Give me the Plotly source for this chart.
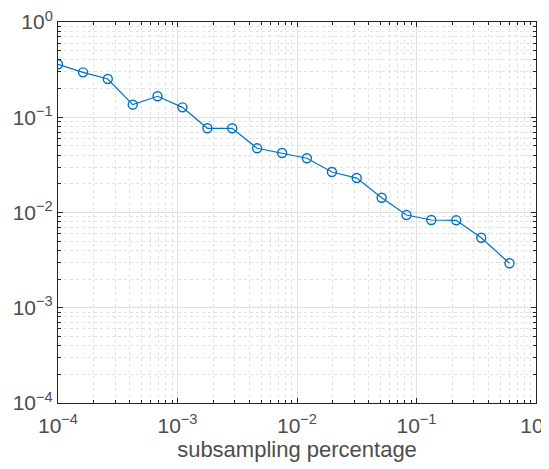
import plotly.graph_objects as go

# Data
x_vals = [1.0e-4, 1.62e-4, 2.61e-4, 4.22e-4, 6.81e-4, 1.10e-3, 1.78e-3, 2.87e-3,
          4.64e-3, 7.50e-3, 1.21e-2, 1.96e-2, 3.16e-2, 5.11e-2, 8.25e-2, 0.133,
          0.215, 0.348, 0.60]
y_vals = [0.36, 0.296, 0.252, 0.1355, 0.166, 0.127, 0.0766, 0.0766, 0.0472,
          0.0421, 0.0371, 0.0266, 0.023, 0.0143, 0.0094, 0.00834, 0.00828,
          0.00543, 0.00293]

x_tickvals = [1e-4, 1e-3, 1e-2, 1e-1, 1e0]
x_ticktext = ["10<sup>−4</sup>", "10<sup>−3</sup>", "10<sup>−2</sup>", "10<sup>−1</sup>", "10<sup>0</sup>"]
y_tickvals = [1e-4, 1e-3, 1e-2, 1e-1, 1e0]
y_ticktext = ["10<sup>−4</sup>", "10<sup>−3</sup>", "10<sup>−2</sup>", "10<sup>−1</sup>", "10<sup>0</sup>"]
x_title = "subsampling percentage"

line_color = "#0072BD"
axis_color = "#262626"
text_color = "#4d4d4d"
font_family = "Liberation Sans, Arial, Helvetica, sans-serif"

fig = go.Figure()
fig.add_trace(go.Scatter(
    x=x_vals, y=y_vals, mode="lines+markers",
    line=dict(color=line_color, width=1.2),
    marker=dict(symbol="circle-open", size=9, color=line_color,
                line=dict(width=1.4, color=line_color)),
    showlegend=False,
))

common = dict(
    type="log", automargin=False, ticklabeloverflow="allow",
    showline=True, linecolor=axis_color, linewidth=1, mirror="ticks",
    ticks="inside", ticklen=5, tickcolor=axis_color, tickwidth=1,
    showgrid=True, gridcolor="#e0e0e0", gridwidth=1,
    zeroline=False,
    tickfont=dict(family=font_family, size=21, color=text_color),
    minor=dict(ticks="inside", ticklen=3, tickcolor=axis_color, tickwidth=1,
               showgrid=True, gridcolor="#e2e2e2", griddash="dot", gridwidth=1,
               dtick="D1"),
)

fig.update_xaxes(**common, range=[-4, 0], tickmode="array",
                 tickvals=x_tickvals, ticktext=x_ticktext, ticklabelstandoff=4,
                 title=dict(text=x_title, font=dict(family=font_family, size=22, color=text_color),
                            standoff=4))
fig.update_yaxes(**common, range=[-4, 0], tickmode="array",
                 tickvals=y_tickvals, ticktext=y_ticktext)

# The page body adds an 8 px offset; margins compensate so the plot lands where the reference has it.
fig.update_layout(
    width=541, height=461,
    margin=dict(l=50, r=13, t=14, b=66),
    plot_bgcolor="white", paper_bgcolor="white",
    font=dict(family=font_family, color=text_color),
)

fig.write_html("out.html")
